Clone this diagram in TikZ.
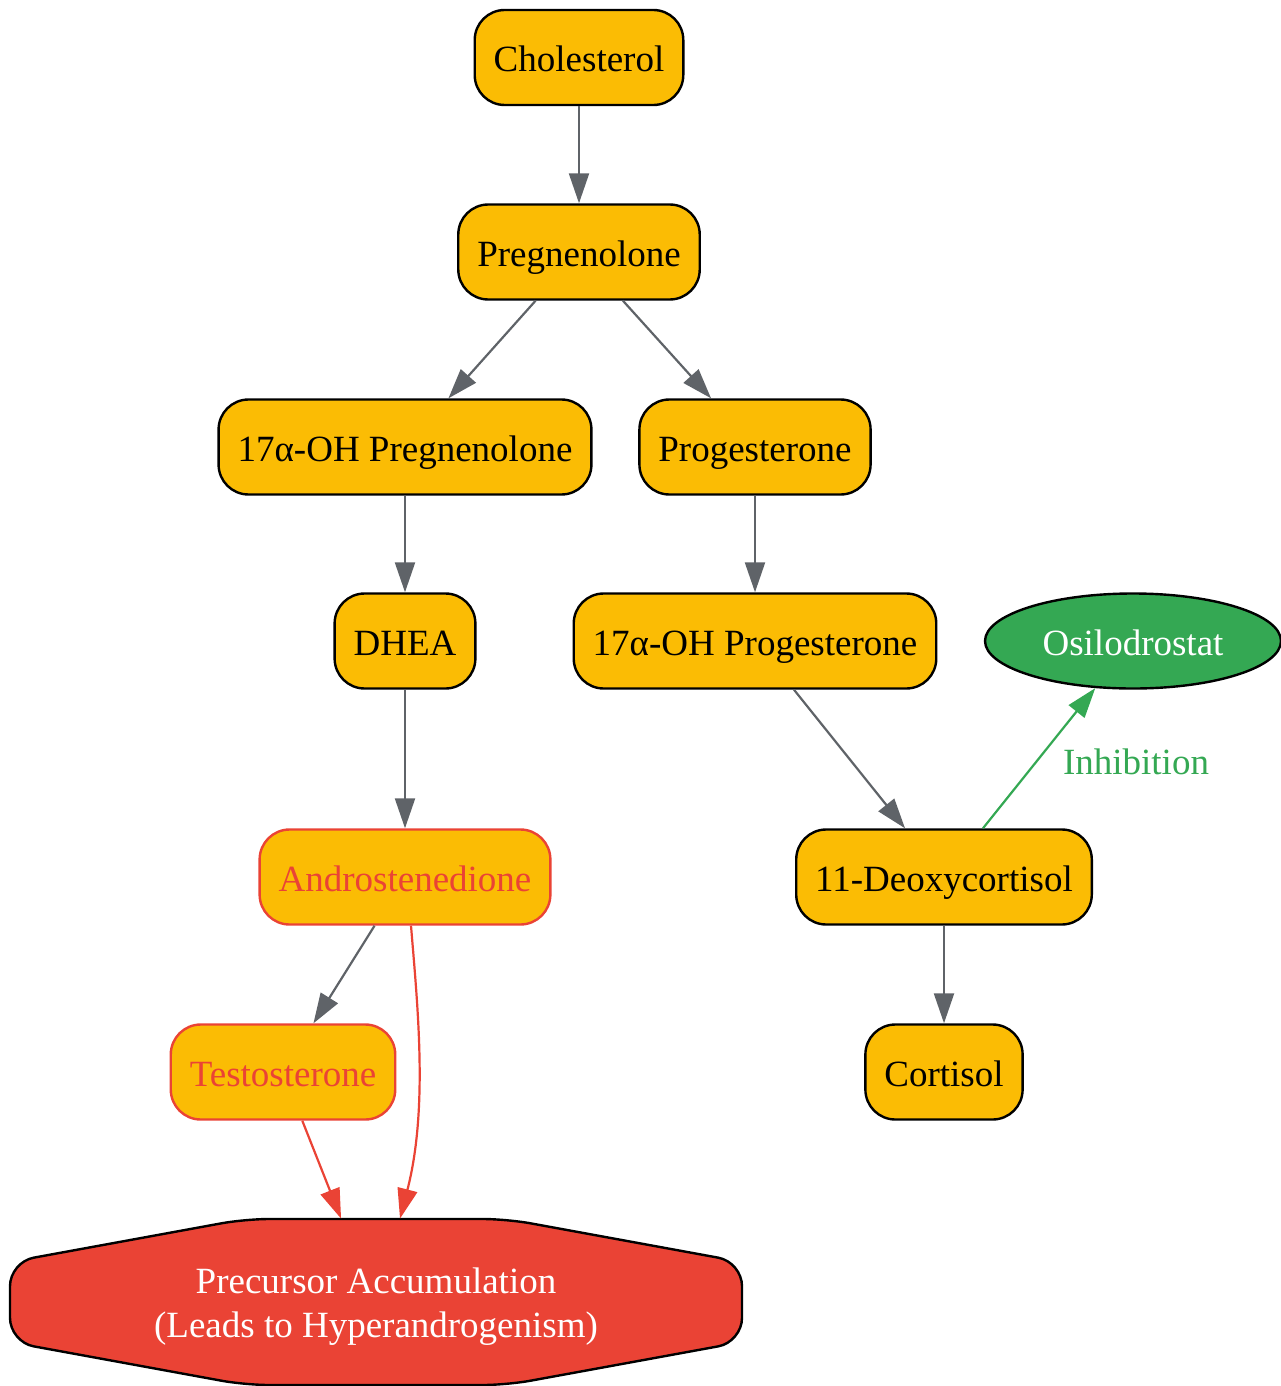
\documentclass[tikz,border=0pt]{standalone}
\usepackage{fontspec}
\setmainfont{Liberation Serif}
\usepackage{xcolor}
\usepackage{tikz}
\usetikzlibrary{positioning,shapes.geometric,arrows.meta}

\definecolor{steroidyellow}{HTML}{FBBC04}
\definecolor{edgegray}{HTML}{5F6368}
\definecolor{warnred}{HTML}{EA4335}
\definecolor{druggreen}{HTML}{34A853}

\begin{document}
\begin{tikzpicture}[x=0.5pt, y=-0.5pt, >={Triangle[length=15pt,width=10pt]},
    hormone/.style={draw=black, line width=1.2pt, fill=steroidyellow, rounded corners=15pt,
        minimum height=47.5pt, inner xsep=9.5pt, text height=15.5pt, text depth=1pt,
        font=\fontsize{18.5pt}{22pt}\selectfont},
    androgen/.style={hormone, draw=warnred, text=warnred},
    drug/.style={ellipse, draw=black, line width=1.2pt, fill=druggreen, text=white,
        minimum width=148pt, minimum height=47.5pt, inner sep=0pt,
        text height=15.5pt, text depth=1pt, font=\fontsize{18.5pt}{22pt}\selectfont},
    flow/.style={->, draw=edgegray, line width=1.1pt},
    redflow/.style={->, draw=warnred, line width=1.1pt},
    blockflow/.style={->, draw=druggreen, line width=1.1pt}]

    \useasboundingbox (0,0) rectangle (1280,1386);

    % Octagon behind the accumulation label
    \draw[line width=1.2pt, fill=warnred, rounded corners=12pt]
        (245,1219) -- (507,1219) -- (742,1262) -- (742,1342) -- (507,1385)
        -- (245,1385) -- (10,1342) -- (10,1262) -- cycle;

    % Steroid nodes
    \node[hormone] (cholesterol) at (579, 57.5) {Cholesterol};
    \node[hormone] (pregnenolone) at (579, 252) {Pregnenolone};
    \node[hormone] (ohpreg) at (405, 447) {17α-OH Pregnenolone};
    \node[hormone] (progesterone) at (755, 447) {Progesterone};
    \node[hormone] (dhea) at (405, 641) {DHEA};
    \node[hormone] (ohprog) at (755, 641) {17α-OH Progesterone};
    \node[drug] (osilodrostat) at (1133, 641) {Osilodrostat};
    \node[androgen] (androstenedione) at (405, 877) {Androstenedione};
    \node[hormone] (deoxycortisol) at (944, 877) {11-Deoxycortisol};
    \node[androgen] (testosterone) at (283, 1072) {Testosterone};
    \node[hormone] (cortisol) at (944, 1072) {Cortisol};
    \node[minimum width=366pt, minimum height=88pt, inner sep=0pt, text=white, align=center,
        font=\fontsize{18.5pt}{22pt}\selectfont] (precursor) at (376, 1307)
        {Precursor Accumulation\\(Leads to Hyperandrogenism)};

    % Edge label
    \node[text=druggreen, font=\fontsize{18.5pt}{22pt}\selectfont] (inhibition) at (1136, 762) {Inhibition};

    % Pathway arrows
    \draw[flow] (cholesterol) -- (pregnenolone);
    \draw[flow] (pregnenolone) -- (ohpreg);
    \draw[flow] (pregnenolone) -- (progesterone);
    \draw[flow] (ohpreg) -- (dhea);
    \draw[flow] (progesterone) -- (ohprog);
    \draw[flow] (ohprog) -- (deoxycortisol);
    \draw[blockflow] (deoxycortisol) -- (osilodrostat);
    \draw[flow] (dhea) -- (androstenedione);
    \draw[flow] (deoxycortisol) -- (cortisol);
    \draw[flow] (androstenedione) -- (testosterone);
    \draw[redflow] (testosterone) -- (precursor);
    \draw[redflow] ([xshift=3pt]androstenedione.south) .. controls (418,1010) and (428,1110)
        .. ([xshift=12pt]precursor.north);

\end{tikzpicture}
\end{document}
